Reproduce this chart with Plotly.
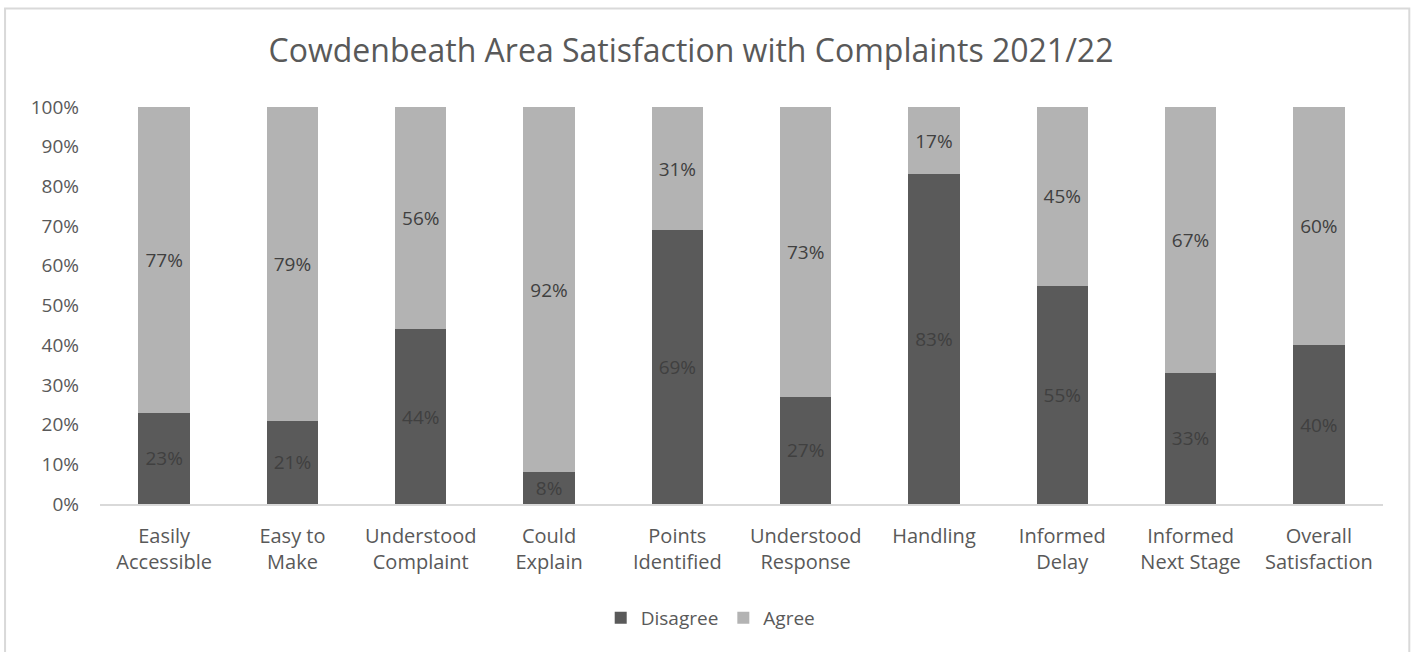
import plotly.graph_objects as go

categories = [
    "Easily<br>Accessible", "Easy to<br>Make", "Understood<br>Complaint",
    "Could<br>Explain", "Points<br>Identified", "Understood<br>Response",
    "Handling", "Informed<br>Delay", "Informed<br>Next Stage", "Overall<br>Satisfaction",
]
disagree = [23, 21, 44, 8, 69, 27, 83, 55, 33, 40]
agree = [77, 79, 56, 92, 31, 73, 17, 45, 67, 60]

FONT = "Open Sans"
TEXT_GREY = "#595959"
LABEL_GREY = "#404040"

fig = go.Figure()
for name, vals, color in [("Disagree", disagree, "#5a5a5a"), ("Agree", agree, "#b3b3b3")]:
    fig.add_trace(go.Bar(
        name=name, x=categories, y=vals,
        marker=dict(color=color, line=dict(width=0)),
        texttemplate="%{y}", textposition="inside", insidetextanchor="middle",
        textangle=0, constraintext="none",
        textfont=dict(family=FONT, size=19, color=LABEL_GREY),
        hoverinfo="skip",
    ))

fig.update_layout(
    barmode="stack", bargap=0.6,
    width=1416, height=652,
    margin=dict(l=100, r=33, t=107, b=148),
    paper_bgcolor="white", plot_bgcolor="white",
    font=dict(family=FONT, color=TEXT_GREY, size=19),
    title=dict(text="Cowdenbeath Area Satisfaction with Complaints 2021/22",
               x=0.488, xanchor="center", y=0.922, yanchor="middle",
               font=dict(family=FONT, size=32, color=TEXT_GREY)),
    legend=dict(orientation="h", x=0.476, xanchor="center", y=-0.287, yanchor="middle",
                font=dict(family=FONT, size=19, color=TEXT_GREY),
                itemwidth=30, traceorder="normal"),
    showlegend=True,
)
fig.update_yaxes(range=[0, 100], dtick=10, ticksuffix="%", showgrid=False,
                 zeroline=False, showline=False, ticks="", ticklabelstandoff=20,
                 tickfont=dict(family=FONT, size=19, color=TEXT_GREY))
fig.update_xaxes(showline=True, linecolor="#d9d9d9", linewidth=2, ticks="",
                 tickfont=dict(family=FONT, size=20, color=TEXT_GREY),
                 ticklabelstandoff=13)

# chart frame
fig.add_shape(type="rect", xref="paper", yref="paper",
              x0=-0.074, x1=1.0205, y0=-0.45, y1=1.248,
              line=dict(color="#d9d9d9", width=2), layer="below")

fig.write_html("out.html")
